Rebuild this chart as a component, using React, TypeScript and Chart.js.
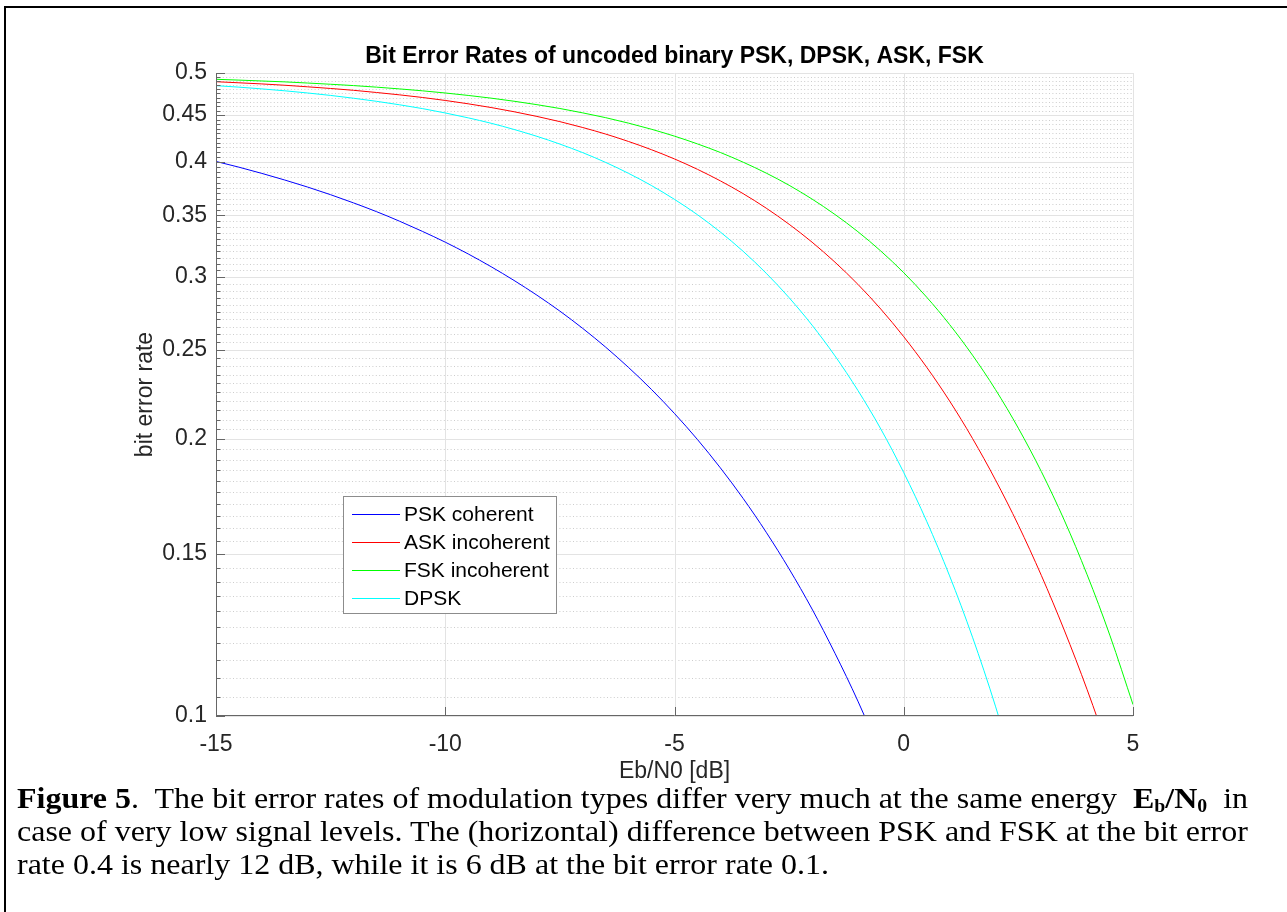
import React, { useEffect, useRef } from 'react';
import { Chart, registerables } from 'chart.js';

Chart.register(...registerables);

// ---- data ----
const ebn0Db = [
  -15, -14.5, -14, -13.5, -13, -12.5, -12, -11.5, -11, -10.5,
  -10, -9.5, -9, -8.5, -8, -7.5, -7, -6.5, -6, -5.5,
  -5, -4.5, -4, -3.5, -3, -2.5, -2, -1.5, -1, -0.5,
  0, 0.5, 1, 1.5, 2, 2.5, 3, 3.5, 4, 4.5, 5,
];

const pskCoherent = [
  0.4007, 0.3950, 0.3889, 0.3825, 0.3758, 0.3687, 0.3612, 0.3534, 0.3451, 0.3364,
  0.3274, 0.3179, 0.3079, 0.2975, 0.2867, 0.2755, 0.2638, 0.2517, 0.2392, 0.2264,
  0.2132, 0.1998, 0.1861, 0.1723, 0.1584, 0.1445, 0.1307, 0.1170, 0.1038, 0.0909,
];

const askIncoherent = [
  0.4892, 0.4879, 0.4865, 0.4849, 0.4830, 0.4810, 0.4788, 0.4762, 0.4734, 0.4703,
  0.4668, 0.4629, 0.4586, 0.4538, 0.4485, 0.4427, 0.4362, 0.4291, 0.4212, 0.4126,
  0.4032, 0.3929, 0.3817, 0.3696, 0.3565, 0.3424, 0.3274, 0.3114, 0.2946, 0.2769,
  0.2584, 0.2394, 0.2200, 0.2003, 0.1806, 0.1612, 0.1422, 0.1240, 0.1068, 0.0908,
];

const fskIncoherent = [
  0.4922, 0.4912, 0.4901, 0.4890, 0.4876, 0.4861, 0.4845, 0.4826, 0.4805, 0.4782,
  0.4756, 0.4727, 0.4695, 0.4659, 0.4619, 0.4575, 0.4525, 0.4471, 0.4410, 0.4343,
  0.4269, 0.4187, 0.4098, 0.3999, 0.3892, 0.3775, 0.3647, 0.3509, 0.3361, 0.3202,
  0.3033, 0.2853, 0.2664, 0.2467, 0.2264, 0.2055, 0.1844, 0.1633, 0.1424, 0.1222, 0.1029,
];

const dpsk = [
  0.4844, 0.4826, 0.4805, 0.4782, 0.4756, 0.4727, 0.4694, 0.4658, 0.4618, 0.4574,
  0.4524, 0.4469, 0.4409, 0.4341, 0.4267, 0.4185, 0.4096, 0.3997, 0.3889, 0.3772,
  0.3644, 0.3507, 0.3358, 0.3199, 0.3029, 0.2849, 0.2660, 0.2463, 0.2259, 0.2051,
  0.1839, 0.1628, 0.1420, 0.1218, 0.1025, 0.0845,
];

const seriesNames = ['PSK coherent', 'ASK incoherent', 'FSK incoherent', 'DPSK'];
const seriesValues = [pskCoherent, askIncoherent, fskIncoherent, dpsk];
const seriesColors = ['#0000ff', '#ff0000', '#00ff00', '#00ffff'];

const xTicks = [-15, -10, -5, 0, 5];
const xTickLabels = ['-15', '-10', '-5', '0', '5'];
const yMajorTicks = [0.1, 0.15, 0.2, 0.25, 0.3, 0.35, 0.4, 0.45, 0.5];
const yTickLabels = ['0.1', '0.15', '0.2', '0.25', '0.3', '0.35', '0.4', '0.45', '0.5'];
const yMinorStep = 0.005;

const chartTitle = 'Bit Error Rates of uncoded binary PSK, DPSK, ASK, FSK';
const xAxisTitle = 'Eb/N0 [dB]';
const yAxisTitle = 'bit error rate';

const FONT = '"Liberation Sans", Arial, Helvetica, sans-serif';
const TEXT = '#262626';

const CANVAS_W = 1287;
const CANVAS_H = 800;

const matlabPlugin = {
  id: 'matlabAxes',
  beforeDatasetsDraw(chart: any) {
    const { ctx, chartArea: a, scales } = chart;
    const xs = scales.x;
    const ys = scales.y;
    ctx.save();
    ctx.lineWidth = 1;
    // minor dotted grid
    ctx.strokeStyle = '#cdcdcd';
    ctx.setLineDash([1, 2.4]);
    const kMin = Math.round(yMajorTicks[0] / yMinorStep);
    const kMax = Math.round(yMajorTicks[yMajorTicks.length - 1] / yMinorStep);
    for (let k = kMin + 1; k < kMax; k++) {
      const v = k * yMinorStep;
      if (yMajorTicks.some((m) => Math.abs(m - v) < 1e-9)) continue;
      const py = Math.round(ys.getPixelForValue(v)) + 0.5;
      ctx.beginPath();
      ctx.moveTo(a.left, py);
      ctx.lineTo(a.right, py);
      ctx.stroke();
    }
    ctx.setLineDash([]);
    // major grid
    ctx.strokeStyle = '#e3e3e3';
    yMajorTicks.forEach((v) => {
      const py = Math.round(ys.getPixelForValue(v)) + 0.5;
      ctx.beginPath();
      ctx.moveTo(a.left, py);
      ctx.lineTo(a.right, py);
      ctx.stroke();
    });
    xTicks.forEach((v) => {
      const px = Math.round(xs.getPixelForValue(v)) + 0.5;
      ctx.beginPath();
      ctx.moveTo(px, a.top);
      ctx.lineTo(px, a.bottom);
      ctx.stroke();
    });
    ctx.restore();
  },
  afterDatasetsDraw(chart: any) {
    const { ctx, chartArea: a, scales } = chart;
    const xs = scales.x;
    const ys = scales.y;
    ctx.save();
    const axisX = Math.round(a.left) + 0.5;
    const axisY = Math.round(a.bottom) - 0.5;
    ctx.strokeStyle = '#666666';
    ctx.lineWidth = 1;
    // axis lines
    ctx.beginPath();
    ctx.moveTo(axisX, a.top);
    ctx.lineTo(axisX, a.bottom);
    ctx.moveTo(a.left, axisY);
    ctx.lineTo(a.right, axisY);
    ctx.stroke();
    // y ticks (minor + major), inward
    const kMin = Math.round(yMajorTicks[0] / yMinorStep);
    const kMax = Math.round(yMajorTicks[yMajorTicks.length - 1] / yMinorStep);
    ctx.beginPath();
    for (let k = kMin; k <= kMax; k++) {
      const v = k * yMinorStep;
      const major = yMajorTicks.some((m) => Math.abs(m - v) < 1e-9);
      const py = Math.round(ys.getPixelForValue(v)) + 0.5;
      ctx.moveTo(a.left, py);
      ctx.lineTo(a.left + (major ? 9 : 4.5), py);
    }
    // x ticks, inward
    xTicks.forEach((v) => {
      const px = Math.round(xs.getPixelForValue(v)) + 0.5;
      ctx.moveTo(px, a.bottom);
      ctx.lineTo(px, a.bottom - 9);
    });
    ctx.stroke();

    // legend
    const lx = 343;
    const ly = 496;
    const lw = 213;
    const lh = 117;
    ctx.fillStyle = '#ffffff';
    ctx.fillRect(lx, ly, lw, lh);
    ctx.strokeStyle = '#8c8c8c';
    ctx.strokeRect(lx + 0.5, ly + 0.5, lw, lh);
    ctx.font = `21px ${FONT}`;
    ctx.textBaseline = 'middle';
    ctx.textAlign = 'left';
    chart.data.datasets.forEach((ds: any, i: number) => {
      const ry = Math.round(ly + 17.5 + i * 28) + 0.5;
      ctx.strokeStyle = ds.borderColor;
      ctx.lineWidth = 1;
      ctx.beginPath();
      ctx.moveTo(352, ry);
      ctx.lineTo(400, ry);
      ctx.stroke();
      ctx.fillStyle = '#000000';
      ctx.fillText(ds.label, 404, ry + 1);
    });

    // title and axis titles
    const cx = (a.left + a.right) / 2;
    ctx.fillStyle = '#000000';
    ctx.font = `bold 23px ${FONT}`;
    ctx.textAlign = 'center';
    ctx.textBaseline = 'alphabetic';
    ctx.fillText(chartTitle, cx, 63);

    ctx.fillStyle = TEXT;
    ctx.font = `23px ${FONT}`;
    ctx.textBaseline = 'middle';
    ctx.fillText(xAxisTitle, cx, 772);

    ctx.save();
    ctx.translate(146, (a.top + a.bottom) / 2);
    ctx.rotate(-Math.PI / 2);
    ctx.fillText(yAxisTitle, 0, 0);
    ctx.restore();

    ctx.restore();
  },
};

export default function App() {
  const ref = useRef<HTMLCanvasElement | null>(null);

  useEffect(() => {
    const canvas = ref.current;
    if (!canvas) return;
    const datasets = seriesNames.map((name, i) => ({
      label: name,
      data: seriesValues[i].map((v, j) => ({ x: ebn0Db[j], y: v })),
      borderColor: seriesColors[i],
      backgroundColor: seriesColors[i],
      borderWidth: 1,
      pointRadius: 0,
      fill: false,
      cubicInterpolationMode: 'monotone' as const,
    }));
    const chart = new Chart(canvas, {
      type: 'line',
      data: { datasets },
      options: {
        responsive: false,
        maintainAspectRatio: false,
        animation: false,
        devicePixelRatio: 1,
        layout: { padding: { left: 0, top: 73, right: CANVAS_W - 1133, bottom: CANVAS_H - 716 - 40 } },
        plugins: {
          legend: { display: false },
          title: { display: false },
          tooltip: { enabled: false },
        },
        scales: {
          x: {
            type: 'linear',
            min: -15,
            max: 5,
            grid: { display: false, drawTicks: false },
            border: { display: false },
            afterBuildTicks: (s: any) => {
              s.ticks = xTicks.map((v) => ({ value: v }));
            },
            afterFit: (s: any) => {
              s.height = 40;
            },
            ticks: {
              autoSkip: false,
              maxRotation: 0,
              padding: 15,
              color: TEXT,
              font: { family: FONT, size: 23 },
              callback: (_v: any, i: number) => xTickLabels[i] ?? '',
            },
          },
          y: {
            type: 'logarithmic',
            min: 0.1,
            max: 0.5,
            grid: { display: false, drawTicks: false },
            border: { display: false },
            afterBuildTicks: (s: any) => {
              s.ticks = yMajorTicks.map((v) => ({ value: v }));
            },
            afterFit: (s: any) => {
              s.width = 216;
            },
            ticks: {
              autoSkip: false,
              padding: 9,
              color: TEXT,
              font: { family: FONT, size: 23 },
              callback: (_v: any, i: number) => yTickLabels[i] ?? '',
            },
          },
        },
      },
      plugins: [matlabPlugin],
    } as any);
    return () => chart.destroy();
  }, []);

  const serif = '"Liberation Serif", "Times New Roman", Times, serif';
  const lineStyle: React.CSSProperties = {
    height: 33,
    whiteSpace: 'pre',
  };
  const subStyle: React.CSSProperties = { fontSize: '0.62em', verticalAlign: '-0.22em', lineHeight: 0 };

  return (
    <div style={{ position: 'fixed', left: 0, top: 0, width: CANVAS_W, height: 912, overflow: 'hidden', background: '#fff' }}>
      <div
        style={{
          position: 'absolute',
          left: 4,
          top: 6,
          width: 1400,
          height: 1000,
          borderTop: '2px solid #000',
          borderLeft: '2px solid #000',
        }}
      />
      <canvas ref={ref} width={CANVAS_W} height={CANVAS_H} style={{ position: 'absolute', left: 0, top: 0, width: CANVAS_W, height: CANVAS_H }} />
      <div
        style={{
          position: 'absolute',
          left: 17,
          top: 782,
          width: 1160,
          fontFamily: serif,
          fontSize: 29,
          lineHeight: '33px',
          color: '#000',
          transform: 'scaleX(1.103)',
          transformOrigin: '0 0',
        }}
      >
        <div style={lineStyle}>
          <b>Figure 5</b>
          {'.  The bit error rates of modulation types differ very much at the same energy  '}
          <b>
            E<sub style={subStyle}>b</sub>/N<sub style={subStyle}>0</sub>
          </b>
          {'  in'}
        </div>
        <div style={lineStyle}>
          {'case of very low signal levels. The (horizontal) difference between PSK and FSK at the bit error'}
        </div>
        <div style={lineStyle}>{'rate 0.4 is nearly 12 dB, while it is 6 dB at the bit error rate 0.1.'}</div>
      </div>
    </div>
  );
}
